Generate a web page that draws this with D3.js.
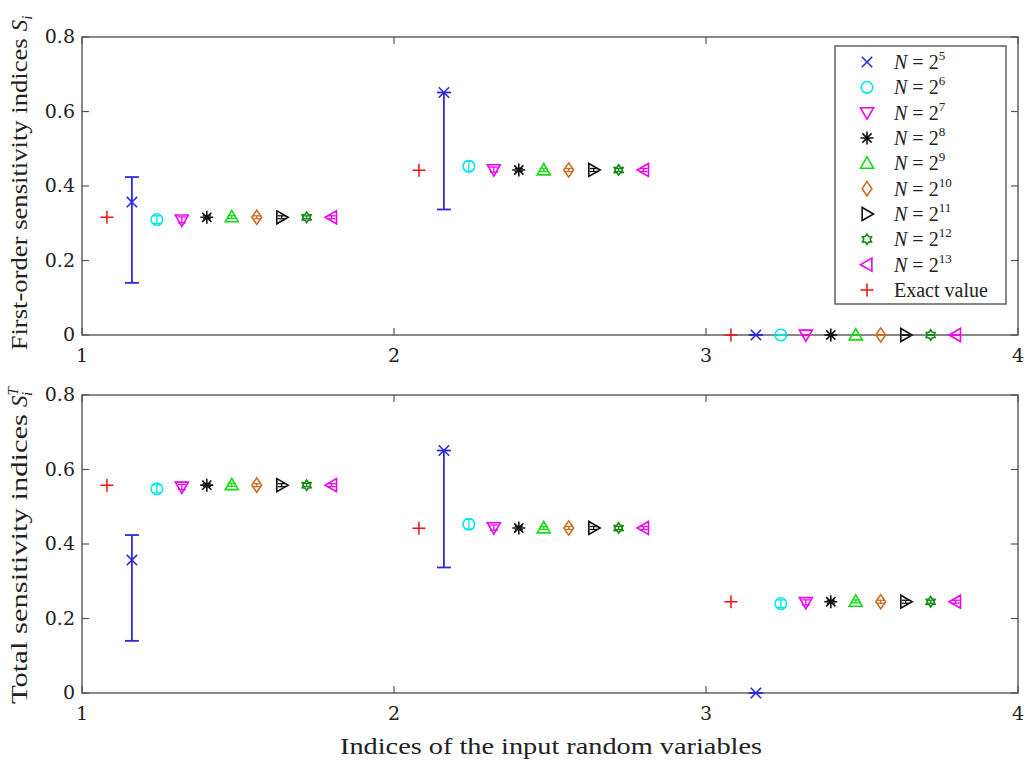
<!DOCTYPE html>
<html>
<head>
<meta charset="utf-8">
<script src="https://cdn.jsdelivr.net/npm/d3@7"></script>
<style>
  body { margin: 0; background: #fff; }
  text { font-family: "Liberation Serif", "DejaVu Serif", serif; fill: #222; }
  .tick { font-family: "DejaVu Serif", "Liberation Serif", serif; }
</style>
</head>
<body>
<div id="chart"></div>
<script>
// ---- data ----
const indices = [1, 2, 3];
const exponents = [5, 6, 7, 8, 9, 10, 11, 12, 13];
const xShift = [0.16, 0.24, 0.32, 0.40, 0.48, 0.56, 0.64, 0.72, 0.80]; // per N
const exactShift = 0.08;
const yTicks = [0, 0.2, 0.4, 0.6, 0.8];
const xTicks = [1, 2, 3, 4];

// first-order estimates, one row per N, columns = indices
const firstEst = [
  [0.357, 0.651, 0], [0.310, 0.453, 0], [0.309, 0.444, 0],
  [0.316, 0.443, 0], [0.317, 0.443, 0], [0.316, 0.443, 0],
  [0.316, 0.443, 0], [0.316, 0.443, 0], [0.316, 0.443, 0]
];
const firstLo = [
  [0.140, 0.337, 0], [0.300, 0.440, 0], [0.301, 0.437, 0],
  [0.312, 0.439, 0], [0.313, 0.439, 0], [0.312, 0.439, 0],
  [0.312, 0.439, 0], [0.312, 0.439, 0], [0.312, 0.439, 0]
];
const firstHi = [
  [0.424, 0.651, 0], [0.320, 0.466, 0], [0.317, 0.451, 0],
  [0.320, 0.447, 0], [0.321, 0.447, 0], [0.320, 0.447, 0],
  [0.320, 0.447, 0], [0.320, 0.447, 0], [0.320, 0.447, 0]
];
const firstExact = [0.316, 0.442, 0];

// total estimates
const totalEst = [
  [0.357, 0.651, 0], [0.548, 0.453, 0.240], [0.553, 0.444, 0.243],
  [0.558, 0.443, 0.245], [0.559, 0.443, 0.246], [0.558, 0.443, 0.245],
  [0.558, 0.443, 0.245], [0.558, 0.443, 0.245], [0.558, 0.443, 0.245]
];
const totalLo = [
  [0.140, 0.337, 0], [0.537, 0.440, 0.230], [0.546, 0.437, 0.236],
  [0.554, 0.439, 0.241], [0.555, 0.439, 0.242], [0.554, 0.439, 0.241],
  [0.554, 0.439, 0.241], [0.554, 0.439, 0.241], [0.554, 0.439, 0.241]
];
const totalHi = [
  [0.424, 0.651, 0], [0.559, 0.466, 0.250], [0.560, 0.451, 0.250],
  [0.562, 0.447, 0.249], [0.563, 0.447, 0.250], [0.562, 0.447, 0.249],
  [0.562, 0.447, 0.249], [0.562, 0.447, 0.249], [0.562, 0.447, 0.249]
];
const totalExact = [0.558, 0.442, 0.245];

// ---- styles ----
const colors = ['#2b2bdd', '#00e5ee', '#ee00ee', '#111', '#11dd11', '#d2691e', '#111', '#138a13', '#ee00ee'];
const shapes = ['x', 'circle', 'tdown', 'star', 'tup', 'diamond', 'tright', 'hex', 'tleft'];

const W = 1029, H = 764;
const svg = d3.select('#chart').append('svg').attr('width', W).attr('height', H);

const x = d3.scaleLinear().domain([1, 4]).range([82, 1018]);

function markerPath(shape, s) {
  const h = s / 2;
  switch (shape) {
    case 'x': return `M${-h * 0.8},${-h * 0.8}L${h * 0.8},${h * 0.8}M${-h * 0.8},${h * 0.8}L${h * 0.8},${-h * 0.8}`;
    case 'plus': return `M${-h},0L${h},0M0,${-h}L0,${h}`;
    case 'circle': return d3.symbol(d3.symbolCircle, s * s * 0.62)();
    case 'tdown': return `M${-h},${-h * 0.75}L${h},${-h * 0.75}L0,${h}Z`;
    case 'tup': return `M${-h},${h * 0.75}L${h},${h * 0.75}L0,${-h}Z`;
    case 'tright': return `M${-h * 0.75},${-h}L${-h * 0.75},${h}L${h},0Z`;
    case 'tleft': return `M${h * 0.75},${-h}L${h * 0.75},${h}L${-h},0Z`;
    case 'diamond': return `M0,${-h * 1.1}L${h * 0.75},0L0,${h * 1.1}L${-h * 0.75},0Z`;
    case 'star': {
      let p = '';
      for (let k = 0; k < 4; k++) {
        const a = k * Math.PI / 4;
        p += `M${-h * Math.cos(a)},${-h * Math.sin(a)}L${h * Math.cos(a)},${h * Math.sin(a)}`;
      }
      return p;
    }
    case 'hex': {
      const r = h * 0.8;
      let p = '';
      for (let k = 0; k < 12; k++) {
        const rr = k % 2 === 0 ? r : r * 0.62;
        const a = -Math.PI / 2 + k * Math.PI / 6;
        p += (k === 0 ? 'M' : 'L') + (rr * Math.cos(a)) + ',' + (rr * Math.sin(a));
      }
      return p + 'Z';
    }
  }
}

const panels = [
  {top: 37, bottom: 335, est: firstEst, lo: firstLo, hi: firstHi, exact: firstExact},
  {top: 395, bottom: 693, est: totalEst, lo: totalLo, hi: totalHi, exact: totalExact}
];

panels.forEach(function(p) {
  const y = d3.scaleLinear().domain([0, 0.8]).range([p.bottom, p.top]);
  const g = svg.append('g');

  // frame
  g.append('rect')
    .attr('x', x(1)).attr('y', y(0.8))
    .attr('width', x(4) - x(1)).attr('height', y(0) - y(0.8))
    .attr('fill', 'none').attr('stroke', '#555').attr('stroke-width', 1.4);

  // ticks inward
  yTicks.forEach(function(t) {
    g.append('line').attr('x1', x(1)).attr('x2', x(1) + 7).attr('y1', y(t)).attr('y2', y(t))
      .attr('stroke', '#555').attr('stroke-width', 1.2);
    g.append('line').attr('x1', x(4)).attr('x2', x(4) - 7).attr('y1', y(t)).attr('y2', y(t))
      .attr('stroke', '#555').attr('stroke-width', 1.2);
    g.append('text').attr('class', 'tick').attr('x', x(1) - 7).attr('y', y(t) + 6)
      .attr('text-anchor', 'end').attr('font-size', 19).text(t === 0 ? '0' : t.toFixed(1));
  });
  xTicks.forEach(function(t) {
    g.append('line').attr('x1', x(t)).attr('x2', x(t)).attr('y1', y(0)).attr('y2', y(0) - 7)
      .attr('stroke', '#555').attr('stroke-width', 1.2);
    g.append('line').attr('x1', x(t)).attr('x2', x(t)).attr('y1', y(0.8)).attr('y2', y(0.8) + 7)
      .attr('stroke', '#555').attr('stroke-width', 1.2);
    g.append('text').attr('class', 'tick').attr('x', x(t)).attr('y', y(0) + 27)
      .attr('text-anchor', 'middle').attr('font-size', 19).text(t);
  });

  // exact values
  g.selectAll('path.exact').data(indices).enter().append('path')
    .attr('class', 'exact')
    .attr('transform', (d, i) => `translate(${x(d + exactShift)},${y(p.exact[i])})`)
    .attr('d', markerPath('plus', 13))
    .attr('fill', 'none').attr('stroke', '#ee1111').attr('stroke-width', 1.5);

  // estimates with error bars
  exponents.forEach(function(e, s) {
    const col = colors[s];
    indices.forEach(function(d, i) {
      const cx = x(d + xShift[s]);
      const cap = s === 0 ? 7 : 4;
      const lw = s === 0 ? 1.8 : 1.3;
      const eb = g.append('g').attr('stroke', col).attr('stroke-width', lw);
      eb.append('line').attr('x1', cx).attr('x2', cx).attr('y1', y(p.lo[s][i])).attr('y2', y(p.hi[s][i]));
      eb.append('line').attr('x1', cx - cap).attr('x2', cx + cap).attr('y1', y(p.lo[s][i])).attr('y2', y(p.lo[s][i]));
      eb.append('line').attr('x1', cx - cap).attr('x2', cx + cap).attr('y1', y(p.hi[s][i])).attr('y2', y(p.hi[s][i]));
      g.append('path')
        .attr('transform', `translate(${cx},${y(p.est[s][i])})`)
        .attr('d', markerPath(shapes[s], 13))
        .attr('fill', 'none').attr('stroke', col).attr('stroke-width', 1.6);
    });
  });
});

// y labels
function yLabel(cy, words, sup, len) {
  const t = svg.append('text')
    .attr('transform', `translate(27,${cy}) rotate(-90)`)
    .attr('text-anchor', 'middle').attr('font-size', 23);
  t.append('tspan').attr('textLength', len).attr('lengthAdjust', 'spacingAndGlyphs').text(words);
  t.append('tspan').attr('font-style', 'italic').attr('dx', 7).text('S');
  if (sup) {
    t.append('tspan').attr('font-size', 15).attr('font-style', 'italic').attr('dy', -9).text('T');
    t.append('tspan').attr('font-size', 15).attr('font-style', 'italic').attr('dx', -8).attr('dy', 14).text('i');
  } else {
    t.append('tspan').attr('font-size', 15).attr('font-style', 'italic').attr('dy', 5).text('i');
  }
}
yLabel(183, 'First-order sensitivity indices', false, 312);
yLabel(546, 'Total sensitivity indices', true, 290);

svg.append('text').attr('x', 340).attr('y', 754)
  .attr('textLength', 422).attr('lengthAdjust', 'spacingAndGlyphs')
  .attr('font-size', 24).text('Indices of the input random variables');

// legend
const lg = svg.append('g');
lg.append('rect').attr('x', 835).attr('y', 46).attr('width', 171).attr('height', 258)
  .attr('fill', '#fff').attr('stroke', '#555').attr('stroke-width', 1.4);
const rowY = d3.scaleLinear().domain([0, 9]).range([62, 290]);
exponents.forEach(function(e, s) {
  const yy = rowY(s);
  lg.append('path').attr('transform', `translate(867,${yy})`)
    .attr('d', markerPath(shapes[s], 13))
    .attr('fill', 'none').attr('stroke', colors[s]).attr('stroke-width', 1.6);
  const t = lg.append('text').attr('x', 894).attr('y', yy + 7).attr('font-size', 20);
  t.append('tspan').attr('font-style', 'italic').text('N');
  t.append('tspan').attr('dx', 5).text('=');
  t.append('tspan').attr('dx', 5).text('2');
  t.append('tspan').attr('font-size', 13).attr('dy', -9).text(e);
});
lg.append('path').attr('transform', `translate(867,${rowY(9)})`)
  .attr('d', markerPath('plus', 13))
  .attr('fill', 'none').attr('stroke', '#ee1111').attr('stroke-width', 1.5);
lg.append('text').attr('x', 894).attr('y', rowY(9) + 7).attr('font-size', 20).text('Exact value');
</script>
</body>
</html>
